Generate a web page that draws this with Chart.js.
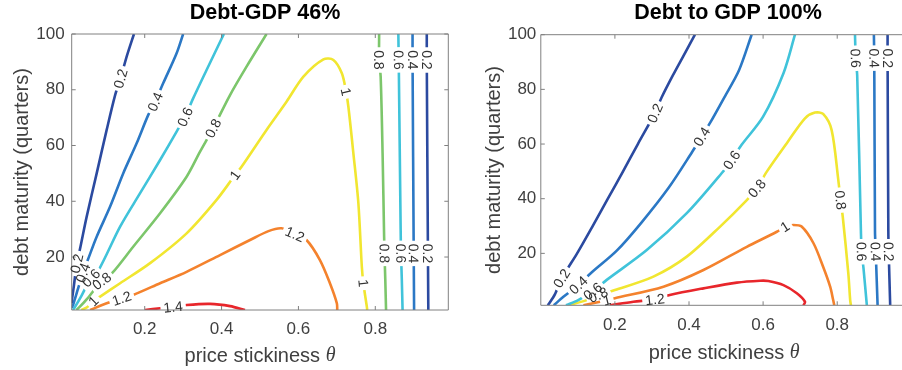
<!DOCTYPE html>
<html>
<head>
<meta charset="utf-8">
<script src="https://cdn.jsdelivr.net/npm/chart.js@4.4.1/dist/chart.umd.min.js"></script>
<style>
  html, body { margin: 0; padding: 0; background: #fff; overflow: hidden; }
  body { width: 902px; height: 370px; position: relative; }
  .panel { position: absolute; top: 0; height: 370px; }
  #leftPanel { left: 0; width: 530px; }
  #rightPanel { left: 440px; width: 576px; }
</style>
</head>
<body>
<div class="panel" id="leftPanel"><canvas id="leftChart"></canvas></div>
<div class="panel" id="rightPanel"><canvas id="rightChart"></canvas></div>
<script>
// ---------- data: [theta, maturity] ----------
const xTicks = [0.2, 0.4, 0.6, 0.8];
const yTicks = [20, 40, 60, 80, 100];

// Debt-GDP 46%
const d46_02a = [[0.172,100],[0.153,91.9],[0.137,84],[0.123,78.1],[0.101,65.6],[0.075,50],[0.049,34.5],[0.031,22.5],[0.023,17.7],[0.016,10],[0.011,5],[0.01,3.5]];
const d46_02aLab = [[0.137,84],[0.023,17.7]];
const d46_04a = [[0.300,100],[0.283,93.1],[0.248,82.3],[0.227,75.7],[0.209,70.9],[0.179,60.8],[0.144,50],[0.11,38.1],[0.075,27.3],[0.052,19],[0.039,14.3],[0.025,8],[0.014,3],[0.01,1.8]];
const d46_04aLab = [[0.227,75.7],[0.039,14.3]];
const d46_06a = [[0.406,100],[0.361,87.1],[0.326,76.9],[0.305,70.3],[0.283,65],[0.24,54.8],[0.188,42.9],[0.136,30.9],[0.08,15.3],[0.06,12.5],[0.035,6],[0.018,2],[0.013,1]];
const d46_06aLab = [[0.305,70.3],[0.06,12.5]];
const d46_08a = [[0.517,100],[0.465,88.3],[0.422,78.1],[0.378,66.2],[0.344,57.8],[0.309,48.8],[0.24,35.7],[0.17,23.7],[0.115,14.2],[0.088,11.4],[0.05,5],[0.03,2],[0.022,1]];
const d46_08aLab = [[0.378,66.2],[0.088,11.4]];
const d46_10 = [[0.035,1],[0.05,2],[0.066,4.2],[0.084,5.8],[0.136,10.6],[0.214,17.8],[0.309,28.5],[0.387,40.5],[0.435,49.4],[0.452,52.4],[0.517,65.6],[0.569,75.7],[0.613,84.7],[0.665,90.9],[0.691,90.7],[0.713,85.9],[0.724,79.3],[0.73,73.9],[0.743,57.2],[0.756,39.3],[0.765,16.5],[0.769,10.6],[0.778,2.2],[0.779,1]];
const d46_10Lab = [[0.066,4.2],[0.435,49.4],[0.724,79.3],[0.769,10.6]];
const d46_12 = [[0.058,1],[0.101,3.4],[0.14,5.2],[0.17,6.4],[0.24,10.6],[0.309,14.7],[0.396,20.7],[0.474,26.1],[0.522,29.3],[0.556,30.3],[0.591,28.2],[0.621,26.1],[0.656,18.9],[0.682,10.6],[0.70,3.4],[0.701,1]];
const d46_12Lab = [[0.14,5.2],[0.591,28.2]];
const d46_14 = [[0.201,1],[0.24,1.6],[0.274,2.1],[0.309,2.8],[0.37,3.2],[0.422,2.4],[0.461,1]];
const d46_14Lab = [[0.274,2.1]];
const d46_08b = [[0.81,100],[0.81,90.7],[0.814,84.7],[0.819,57.2],[0.823,27.3],[0.824,21.3],[0.826,12],[0.828,1]];
const d46_06b = [[0.86,100],[0.861,90.7],[0.866,30],[0.867,21.3],[0.869,12],[0.871,1]];
const d46_04b = [[0.897,100],[0.897,90.7],[0.9,21.3],[0.901,1]];
const d46_02b = [[0.934,100],[0.934,90.7],[0.937,21.3],[0.938,1]];
const d46_vertLab = [90.7, 21.3];

// Debt to GDP 100%
const d100_02a = [[0.416,100],[0.384,92],[0.356,85],[0.326,77],[0.308,71.3],[0.262,60],[0.222,50],[0.181,40],[0.14,30],[0.098,20],[0.075,15],[0.056,10.9],[0.038,5],[0.019,1]];
const d100_02aLab = [[0.308,71.3],[0.056,10.9]];
const d100_04a = [[0.569,100],[0.535,87],[0.495,77],[0.458,68],[0.434,62.7],[0.408,57],[0.345,44],[0.27,31],[0.205,21],[0.137,13],[0.101,8.4],[0.061,4.1],[0.035,1]];
const d100_04aLab = [[0.434,62.7],[0.101,8.4]];
const d100_06a = [[0.686,100],[0.655,85.9],[0.6,70],[0.542,59.7],[0.515,54.2],[0.488,49.3],[0.394,34.7],[0.286,21.2],[0.178,10.3],[0.14,6.2],[0.101,2.9],[0.068,1]];
const d100_06aLab = [[0.515,54.2],[0.14,6.2]];
const d100_08 = [[0.074,1],[0.124,2.9],[0.155,4.8],[0.2,6.6],[0.304,11.5],[0.394,18.8],[0.484,29.8],[0.556,39.5],[0.583,43.8],[0.61,49.9],[0.664,60.3],[0.713,69.4],[0.74,71.5],[0.762,71],[0.785,65.1],[0.803,46.8],[0.809,39.5],[0.815,33.4],[0.83,12.7],[0.835,2.9],[0.837,1]];
const d100_08Lab = [[0.155,4.8],[0.583,43.8],[0.809,39.5]];
const d100_10 = [[0.115,1],[0.16,2.3],[0.178,2.9],[0.2,3.6],[0.331,7.8],[0.439,13.9],[0.556,22.4],[0.637,27.9],[0.659,29.8],[0.682,30.4],[0.704,29.8],[0.736,23.7],[0.762,15.1],[0.781,7.8],[0.789,3],[0.792,1]];
const d100_10Lab = [[0.178,2.9],[0.659,29.8]];
const d100_12 = [[0.187,1],[0.25,2.3],[0.308,3.2],[0.348,4.8],[0.439,7.2],[0.529,9.3],[0.592,10],[0.614,9.9],[0.655,8.4],[0.691,5.4],[0.713,2.3],[0.709,1]];
const d100_12Lab = [[0.308,3.2]];
const d100_06b = [[0.848,100],[0.85,91.4],[0.854,85],[0.864,28],[0.866,20.6],[0.871,14.5],[0.88,1]];
const d100_04b = [[0.899,100],[0.9,91.4],[0.902,28],[0.904,20.6],[0.909,1]];
const d100_02b = [[0.936,100],[0.936,91.4],[0.938,28],[0.939,20.6],[0.943,1]];
const d100_vertLab = [91.4, 20.6];

// ---------- styling ----------
const FONT = '"Liberation Sans", Arial, Helvetica, sans-serif';
const TEXT = '#404040';
const AXIS = '#808080';
const C = {
  darkBlue: '#2b4aa0', blue: '#2b78c5', cyan: '#40c3da', green: '#7cc66b',
  yellow: '#f1e630', orange: '#f4822d', red: '#e8262b'
};

// label positions on the near-vertical contours sit on the line at given heights
function onLine(pts, ys) {
  return ys.map(y => {
    for (let i = 1; i < pts.length; i++) {
      const [x0, y0] = pts[i - 1], [x1, y1] = pts[i];
      if ((y - y0) * (y - y1) <= 0) return [x0 + (x1 - x0) * (y - y0) / (y1 - y0 || 1), y];
    }
    return pts[0];
  });
}

const left = {
  canvas: 'leftChart', title: 'Debt-GDP 46%', xMin: 0.01, xMax: 0.99,
  yAxisW: 71.7, padRight: 81.7, titleGap: 8.2, xAxisH: 60, xTickPad: 9.5, yTickPad: 7,
  yTitlePad: 10.5, xTitleY: 356,
  contours: [
    [0.2, d46_02a, d46_02aLab, C.darkBlue], [0.4, d46_04a, d46_04aLab, C.blue],
    [0.6, d46_06a, d46_06aLab, C.cyan], [0.8, d46_08a, d46_08aLab, C.green],
    [1, d46_10, d46_10Lab, C.yellow], [1.2, d46_12, d46_12Lab, C.orange],
    [1.4, d46_14, d46_14Lab, C.red],
    [0.8, d46_08b, onLine(d46_08b, d46_vertLab), C.green], [0.6, d46_06b, onLine(d46_06b, d46_vertLab), C.cyan],
    [0.4, d46_04b, onLine(d46_04b, d46_vertLab), C.blue], [0.2, d46_02b, onLine(d46_02b, d46_vertLab), C.darkBlue]
  ]
};

const right = {
  canvas: 'rightChart', title: 'Debt to GDP 100%', xMin: 0, xMax: 0.99,
  yAxisW: 100.8, padRight: 108.4, titleGap: 8.9, xAxisH: 64.7, xTickPad: 9.5, yTickPad: 4.5,
  yTitlePad: 42, xTitleY: 353,
  contours: [
    [0.2, d100_02a, d100_02aLab, C.darkBlue], [0.4, d100_04a, d100_04aLab, C.blue],
    [0.6, d100_06a, d100_06aLab, C.cyan], [0.8, d100_08, d100_08Lab, C.yellow],
    [1, d100_10, d100_10Lab, C.orange], [1.2, d100_12, d100_12Lab, C.red],
    [0.6, d100_06b, onLine(d100_06b, d100_vertLab), C.cyan], [0.4, d100_04b, onLine(d100_04b, d100_vertLab), C.blue],
    [0.2, d100_02b, onLine(d100_02b, d100_vertLab), C.darkBlue]
  ]
};

// ---------- contour labels, axes box, x title ----------
const LABEL_FONT = '14px ' + FONT;

function labelBoxes(chart, index) {
  const ds = chart.data.datasets[index];
  const pts = chart.getDatasetMeta(index).data;
  const xs = chart.scales.x, ys = chart.scales.y;
  const ctx = chart.ctx;
  ctx.save();
  ctx.font = LABEL_FONT;
  const w = ctx.measureText(String(ds.level)).width;
  ctx.restore();
  return ds.labelAt.map(([vx, vy]) => {
    const px = xs.getPixelForValue(vx), py = ys.getPixelForValue(vy);
    let best = Infinity, angle = 0;
    for (let i = 1; i < pts.length; i++) {
      const a = pts[i - 1], b = pts[i];
      const dx = b.x - a.x, dy = b.y - a.y;
      const t = Math.max(0, Math.min(1, ((px - a.x) * dx + (py - a.y) * dy) / (dx * dx + dy * dy || 1)));
      const d = Math.hypot(a.x + t * dx - px, a.y + t * dy - py);
      if (d < best) { best = d; angle = Math.atan2(dy, dx); }
    }
    if (angle > Math.PI / 2 + 1e-6) angle -= Math.PI;
    if (angle < -Math.PI / 2 + 1e-6) angle += Math.PI;
    return { x: px, y: py, angle, w: w + 6, h: 13, text: String(ds.level) };
  });
}

const contourLabels = {
  id: 'contourLabels',
  beforeDatasetDraw(chart, args) {
    // leave a gap in each contour where its own labels go
    const ctx = chart.ctx;
    ctx.save();
    ctx.beginPath();
    ctx.rect(0, 0, chart.width, chart.height);
    labelBoxes(chart, args.index).forEach(b => {
      const c = Math.cos(b.angle), s = Math.sin(b.angle);
      [[-1, -1], [1, -1], [1, 1], [-1, 1]].forEach(([u, v], i) => {
        const qx = b.x + u * b.w / 2 * c - v * b.h / 2 * s;
        const qy = b.y + u * b.w / 2 * s + v * b.h / 2 * c;
        if (i) ctx.lineTo(qx, qy); else ctx.moveTo(qx, qy);
      });
      ctx.closePath();
    });
    ctx.clip('evenodd');
  },
  afterDatasetDraw(chart) {
    chart.ctx.restore();
  },
  afterDatasetsDraw(chart) {
    const ctx = chart.ctx;
    const {left: l, right: r, top: t, bottom: b} = chart.chartArea;
    const xs = chart.scales.x, ys = chart.scales.y;

    // box with inward ticks on all four sides
    ctx.save();
    ctx.strokeStyle = AXIS;
    ctx.lineWidth = 1;
    ctx.beginPath();
    ctx.rect(l, t, r - l, b - t);
    xs.ticks.forEach(tk => {
      const p = xs.getPixelForValue(tk.value);
      ctx.moveTo(p, b); ctx.lineTo(p, b - 4);
      ctx.moveTo(p, t); ctx.lineTo(p, t + 4);
    });
    ys.ticks.forEach(tk => {
      const p = ys.getPixelForValue(tk.value);
      ctx.moveTo(l, p); ctx.lineTo(l + 4, p);
      ctx.moveTo(r, p); ctx.lineTo(r - 4, p);
    });
    ctx.stroke();
    ctx.restore();

    // level labels along the contours
    ctx.save();
    ctx.font = LABEL_FONT;
    ctx.fillStyle = '#333';
    ctx.textAlign = 'center';
    ctx.textBaseline = 'middle';
    chart.data.datasets.forEach((ds, i) => {
      labelBoxes(chart, i).forEach(bx => {
        ctx.save();
        ctx.translate(bx.x, bx.y);
        ctx.rotate(bx.angle);
        ctx.fillText(bx.text, 0, 1);
        ctx.restore();
      });
    });
    ctx.restore();
  },
  afterDraw(chart, args, opts) {
    // x title with an italic theta
    const ctx = chart.ctx;
    const {left: l, right: r} = chart.chartArea;
    const main = 'price stickiness ', sym = '\u03b8';
    ctx.save();
    ctx.fillStyle = TEXT;
    ctx.textBaseline = 'middle';
    ctx.font = '20px ' + FONT;
    const w1 = ctx.measureText(main).width;
    ctx.font = 'italic 20px "Liberation Serif", serif';
    const w2 = ctx.measureText(sym).width;
    const x0 = (l + r) / 2 - (w1 + w2) / 2;
    ctx.font = '20px ' + FONT;
    ctx.fillText(main, x0, opts.titleY);
    ctx.font = 'italic 20px "Liberation Serif", serif';
    ctx.fillText(sym, x0 + w1, opts.titleY);
    ctx.restore();
  }
};

function makeChart(cfg) {
  return new Chart(document.getElementById(cfg.canvas), {
    type: 'scatter',
    data: {
      datasets: cfg.contours.map(([level, pts, labs, color]) => ({
        data: pts.map(([x, y]) => ({ x, y })),
        level: level,
        labelAt: labs,
        showLine: true,
        borderColor: color,
        borderWidth: 2.6,
        pointRadius: 0,
        tension: 0.3,
        clip: 0
      }))
    },
    options: {
      responsive: true,
      maintainAspectRatio: false,
      animation: false,
      events: [],
      layout: { padding: 0 },
      plugins: {
        legend: { display: false },
        tooltip: { enabled: false },
        title: {
          display: true,
          text: cfg.title,
          color: '#000',
          font: { family: FONT, size: 21.5, weight: 'bold' },
          padding: { top: 0, bottom: cfg.titleGap }
        },
        contourLabels: { titleY: cfg.xTitleY }
      },
      scales: {
        x: {
          type: 'linear',
          min: cfg.xMin,
          max: cfg.xMax,
          afterBuildTicks: s => { s.ticks = xTicks.map(v => ({ value: v })); },
          afterFit: s => { s.height = cfg.xAxisH; },
          grid: { display: false, drawTicks: false },
          border: { display: false },
          ticks: {
            color: TEXT, padding: cfg.xTickPad, maxRotation: 0, autoSkip: false,
            font: { family: FONT, size: 17 }
          }
        },
        y: {
          type: 'linear',
          min: 1,
          max: 100,
          afterBuildTicks: s => { s.ticks = yTicks.map(v => ({ value: v })); },
          afterFit: s => { s.width = cfg.yAxisW; },
          grid: { display: false, drawTicks: false },
          border: { display: false },
          ticks: {
            color: TEXT, padding: cfg.yTickPad, autoSkip: false,
            font: { family: FONT, size: 17 }
          },
          title: {
            display: true,
            text: 'debt maturity (quarters)',
            color: TEXT,
            font: { family: FONT, size: 20 },
            padding: { top: cfg.yTitlePad, bottom: 0 }
          }
        },
        pad: {
          type: 'linear',
          position: 'right',
          afterFit: s => { s.width = cfg.padRight; },
          grid: { display: false, drawTicks: false },
          border: { display: false },
          ticks: { display: false }
        }
      }
    },
    plugins: [contourLabels]
  });
}

makeChart(left);
makeChart(right);
</script>
</body>
</html>
